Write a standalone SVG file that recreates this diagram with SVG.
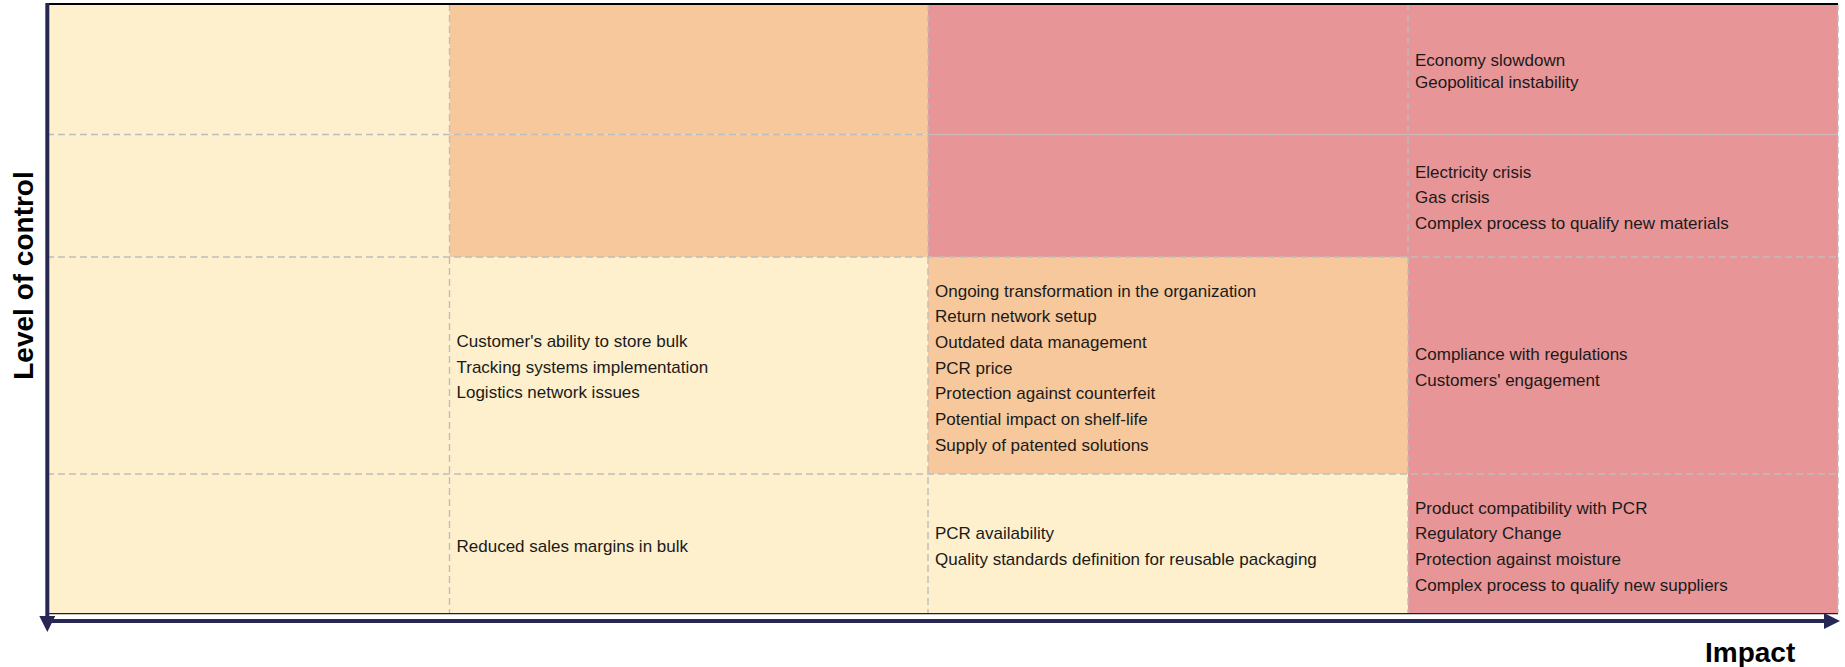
<svg xmlns="http://www.w3.org/2000/svg" width="1845" height="667" viewBox="0 0 1845 667">
<style>
.y{fill:#FEF0CC}
.o{fill:#F7C89B}
.r{fill:#E89597}
.grid{stroke:#BDBDBD;stroke-width:1.4;stroke-dasharray:7 4;fill:none}
.t{font-family:"Liberation Sans",Arial,sans-serif;font-size:17px;fill:#1A1A1A}
.ax{font-family:"Liberation Sans",Arial,sans-serif;font-size:28px;font-weight:bold;fill:#000}
.axis{stroke:#262853;stroke-width:4;fill:none}
</style>
<defs>
<marker id="arr" markerUnits="userSpaceOnUse" markerWidth="16" markerHeight="16" viewBox="0 0 16 16" refX="0" refY="8" orient="auto">
<path d="M0,0 L16,8 L0,16 z" fill="#262853"/>
</marker>
</defs>
<rect x="0" y="0" width="1845" height="667" fill="#fff"/>

<g id="cells">
<g id="cell-r1c1"><rect class="y" x="47" y="4" width="402.5" height="130.5"/></g>
<g id="cell-r1c2"><rect class="o" x="449.5" y="4" width="478.5" height="130.5"/></g>
<g id="cell-r1c3"><rect class="r" x="928" y="4" width="480" height="130.5"/></g>
<g id="cell-r1c4"><rect class="r" x="1408" y="4" width="430" height="130.5"/>
<text class="t" x="1415" y="66">Economy slowdown</text>
<text class="t" x="1415" y="87.5">Geopolitical instability</text></g>

<g id="cell-r2c1"><rect class="y" x="47" y="134.5" width="402.5" height="122.5"/></g>
<g id="cell-r2c2"><rect class="o" x="449.5" y="134.5" width="478.5" height="122.5"/></g>
<g id="cell-r2c3"><rect class="r" x="928" y="134.5" width="480" height="122.5"/></g>
<g id="cell-r2c4"><rect class="r" x="1408" y="134.5" width="430" height="122.5"/>
<text class="t" x="1415" y="177.5">Electricity crisis</text>
<text class="t" x="1415" y="203.3">Gas crisis</text>
<text class="t" x="1415" y="229">Complex process to qualify new materials</text></g>

<g id="cell-r3c1"><rect class="y" x="47" y="257" width="402.5" height="217"/></g>
<g id="cell-r3c2"><rect class="y" x="449.5" y="257" width="478.5" height="217"/>
<text class="t" x="456.5" y="346.7">Customer's ability to store bulk</text>
<text class="t" x="456.5" y="372.5">Tracking systems implementation</text>
<text class="t" x="456.5" y="398.3">Logistics network issues</text></g>
<g id="cell-r3c3"><rect class="o" x="928" y="257" width="480" height="217"/>
<text class="t" x="935" y="296.7">Ongoing transformation in the organization</text>
<text class="t" x="935" y="322.4">Return network setup</text>
<text class="t" x="935" y="348">Outdated data management</text>
<text class="t" x="935" y="373.6">PCR price</text>
<text class="t" x="935" y="399.3">Protection against counterfeit</text>
<text class="t" x="935" y="425">Potential impact on shelf-life</text>
<text class="t" x="935" y="450.8">Supply of patented solutions</text></g>
<g id="cell-r3c4"><rect class="r" x="1408" y="257" width="430" height="217"/>
<text class="t" x="1415" y="360">Compliance with regulations</text>
<text class="t" x="1415" y="386">Customers' engagement</text></g>

<g id="cell-r4c1"><rect class="y" x="47" y="474" width="402.5" height="139.5"/></g>
<g id="cell-r4c2"><rect class="y" x="449.5" y="474" width="478.5" height="139.5"/>
<text class="t" x="456.5" y="551.7">Reduced sales margins in bulk</text></g>
<g id="cell-r4c3"><rect class="y" x="928" y="474" width="480" height="139.5"/>
<text class="t" x="935" y="539">PCR availability</text>
<text class="t" x="935" y="565">Quality standards definition for reusable packaging</text></g>
<g id="cell-r4c4"><rect class="r" x="1408" y="474" width="430" height="139.5"/>
<text class="t" x="1415" y="513.5">Product compatibility with PCR</text>
<text class="t" x="1415" y="539.3">Regulatory Change</text>
<text class="t" x="1415" y="565">Protection against moisture</text>
<text class="t" x="1415" y="591">Complex process to qualify new suppliers</text></g>
</g>

<g id="gridlines">
<path class="grid" d="M47,134.5 H1838 M47,257 H1838 M47,474 H1838"/>
<path class="grid" d="M449.5,4 V613 M928,4 V613 M1408,4 V613 M1838,4 V613"/>
<path d="M47,4 H1838" stroke="#000" stroke-width="2.2" fill="none"/>
<path d="M47,613.7 H1838" stroke="#222" stroke-width="1.2" fill="none"/>
</g>

<g id="connectors">
<line class="axis" x1="47.3" y1="3" x2="47.3" y2="616" marker-end="url(#arr)"/>
<line class="axis" x1="45.3" y1="621" x2="1824" y2="621" marker-end="url(#arr)"/>
</g>

<g id="labels">
<text class="ax" transform="translate(33,275.5) rotate(-90)" text-anchor="middle" font-size="27.5">Level of control</text>
<text class="ax" x="1705" y="662">Impact</text>
</g>
</svg>
